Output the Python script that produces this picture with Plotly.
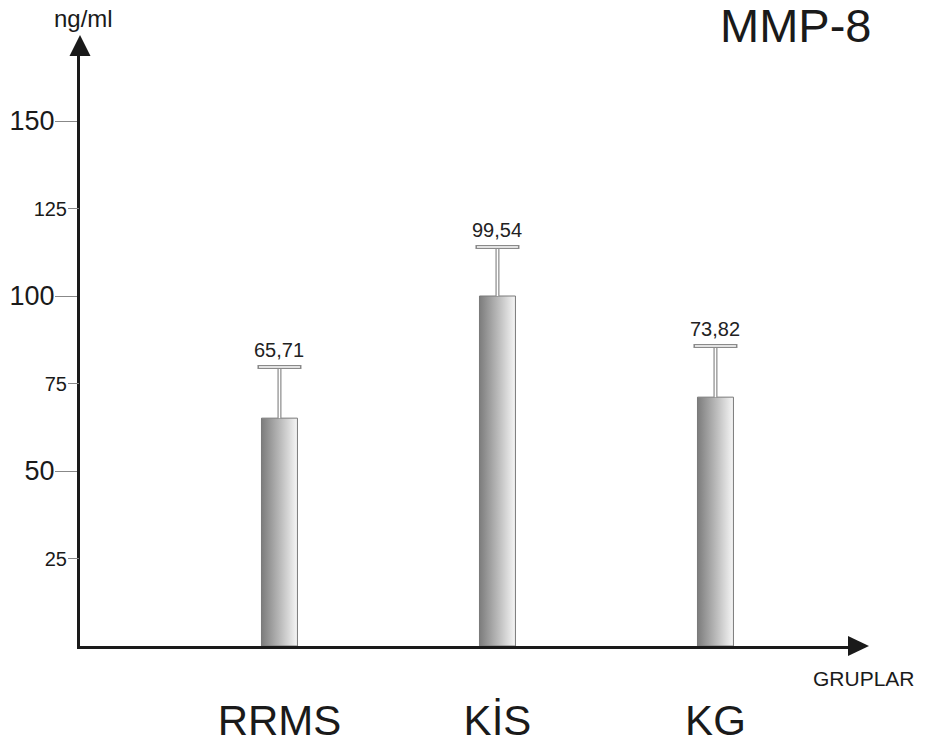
import plotly.graph_objects as go

# ---- data ----
categories = ["RRMS", "KİS", "KG"]
bar_values = [65.1, 100.0, 71.1]          # bar heights as drawn (ng/ml)
error_values = [14.6, 14.0, 14.6]         # upper error (ng/ml)
value_labels = ["65,71", "99,54", "73,82"]
major_ticks = [50, 100, 150]
minor_ticks = [25, 75, 125]

FONT = "Liberation Sans, Arial, sans-serif"
positions = list(range(len(categories)))
bar_w = 0.165
err_tops = [v + e for v, e in zip(bar_values, error_values)]
zeros = [0] * len(bar_values)

fig = go.Figure()

# gradient bars
for p, v in zip(positions, bar_values):
    fig.add_trace(go.Scatter(
        x=[p - bar_w / 2, p + bar_w / 2, p + bar_w / 2, p - bar_w / 2, p - bar_w / 2],
        y=[0, 0, v, v, 0],
        mode="lines", fill="toself",
        line=dict(color="#7a7a7a", width=1),
        fillgradient=dict(type="horizontal",
                          colorscale=[[0, "#7c7c7c"], [0.5, "#b8b8b8"], [1, "#f6f6f6"]]),
        hoverinfo="skip", showlegend=False))

# error bars (hollow look: grey thick + white thin overlay)
for col, th in [("#8a8a8a", 4), ("#ffffff", 1.6)]:
    fig.add_trace(go.Scatter(
        x=positions, y=bar_values, mode="markers",
        marker=dict(size=1, color="rgba(0,0,0,0)"),
        error_y=dict(type="data", symmetric=False, array=error_values,
                     arrayminus=zeros, color=col, thickness=th, width=0),
        hoverinfo="skip", showlegend=False))
for col, th, wd in [("#8a8a8a", 4, 22), ("#ffffff", 1.6, 20.5)]:
    fig.add_trace(go.Scatter(
        x=positions, y=err_tops, mode="markers",
        marker=dict(size=1, color="rgba(0,0,0,0)"),
        error_y=dict(type="data", symmetric=True, array=zeros,
                     color=col, thickness=th, width=wd),
        hoverinfo="skip", showlegend=False))

# value labels
for p, t, top in zip(positions, value_labels, err_tops):
    fig.add_annotation(x=p, y=top, text=t, showarrow=False,
                       yanchor="bottom", yshift=4,
                       font=dict(family=FONT, size=20, color="#222"))

yr = [0, 168.57]
fig.update_layout(
    width=926, height=746,
    margin=dict(l=80, r=78, t=56, b=100, autoexpand=False),
    paper_bgcolor="white", plot_bgcolor="white",
    showlegend=False,
    font=dict(family=FONT, color="#1a1a1a"),
    xaxis=dict(range=[-0.915, 2.608], tickvals=positions, ticktext=categories,
               tickfont=dict(family=FONT, size=42, color="#1a1a1a"),
               ticks="", ticklabelstandoff=36, automargin=False,
               showline=True, linewidth=3, linecolor="#1a1a1a",
               showgrid=False, zeroline=False, fixedrange=True),
    yaxis=dict(range=yr, tickvals=major_ticks, ticktext=[str(t) for t in major_ticks],
               tickfont=dict(family=FONT, size=27, color="#1a1a1a"),
               ticks="outside", ticklen=22, tickwidth=1, tickcolor="#888",
               ticklabelstandoff=-5, automargin=False,
               showline=True, linewidth=3, linecolor="#1a1a1a",
               showgrid=False, zeroline=False),
    yaxis2=dict(range=yr, overlaying="y", side="left", anchor="x",
                tickvals=minor_ticks, ticktext=[str(t) for t in minor_ticks],
                tickfont=dict(family=FONT, size=20, color="#1a1a1a"),
                ticks="outside", ticklen=11, tickwidth=1, tickcolor="#888",
                ticklabelstandoff=-3, automargin=False,
                showline=False, showgrid=False, zeroline=False),
)
fig.add_trace(go.Scatter(x=[None], y=[None], yaxis="y2", showlegend=False))

# arrow heads
fig.add_shape(type="path", xref="paper", yref="paper", xsizemode="pixel", ysizemode="pixel",
              xanchor=0, yanchor=1, path="M -10.5 0 L 10.5 0 L 0 21 Z",
              fillcolor="#1a1a1a", line=dict(width=0))
fig.add_shape(type="path", xref="paper", yref="paper", xsizemode="pixel", ysizemode="pixel",
              xanchor=1, yanchor=0, path="M 0 -10 L 0 10 L 21 0 Z",
              fillcolor="#1a1a1a", line=dict(width=0))

# titles
fig.add_annotation(xref="paper", yref="paper", x=0, y=1, xshift=3, yshift=38,
                   text="ng/ml", showarrow=False, xanchor="center", yanchor="middle",
                   font=dict(family=FONT, size=24, color="#1a1a1a"))
fig.add_annotation(xref="paper", yref="paper", x=0.931, y=1, yshift=31,
                   text="MMP-8", showarrow=False, xanchor="center", yanchor="middle",
                   font=dict(family=FONT, size=47, color="#1a1a1a"))
fig.add_annotation(xref="paper", yref="paper", x=1.0208, y=0, yshift=-32,
                   text="GRUPLAR", showarrow=False, xanchor="center", yanchor="middle",
                   font=dict(family=FONT, size=21, color="#1a1a1a"))

fig.write_html("out.html", config={"displayModeBar": False},
               post_script="document.body.style.margin='0';document.body.style.overflow='hidden';")
